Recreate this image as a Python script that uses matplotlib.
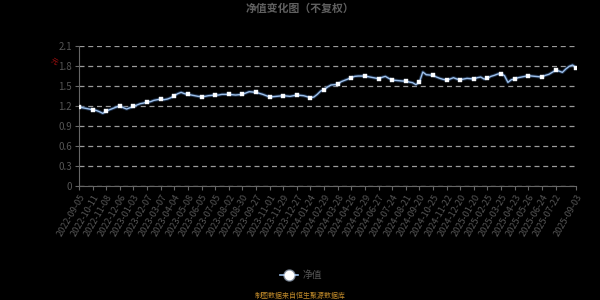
import matplotlib
matplotlib.use("Agg")
import matplotlib.pyplot as plt
import matplotlib.patheffects as pe

plt.rcParams['font.family'] = ['Noto Sans CJK SC', 'DejaVu Sans']

title = "净值变化图（不复权）"
series_name = "净值"
source_note = "制图数据来自恒生聚源数据库"
y_unit = "元"

tick_labels = [
    "2022-09-05", "2022-10-11", "2022-11-08", "2022-12-06", "2023-01-03",
    "2023-02-07", "2023-03-07", "2023-04-04", "2023-05-08", "2023-06-05",
    "2023-07-05", "2023-08-02", "2023-08-30", "2023-09-27", "2023-11-01",
    "2023-11-29", "2023-12-27", "2024-01-24", "2024-02-29", "2024-03-28",
    "2024-04-26", "2024-05-29", "2024-06-27", "2024-07-24", "2024-08-21",
    "2024-09-20", "2024-10-25", "2024-11-22", "2024-12-20", "2025-01-20",
    "2025-02-25", "2025-03-25", "2025-04-23", "2025-05-26", "2025-06-24",
    "2025-07-22", "2025-09-03",
]
tick_index = [0, 4, 8, 12, 16, 20, 24, 28, 32, 36, 40, 44, 48, 52, 56, 60,
              64, 68, 72, 76, 80, 84, 88, 92, 96, 100, 104, 108, 112, 116,
              120, 124, 128, 132, 136, 140, 146]

nav = [
    1.185, 1.17, 1.16, 1.15, 1.14, 1.13, 1.11, 1.085, 1.12, 1.14,
    1.16, 1.18, 1.20, 1.17, 1.15, 1.17, 1.19, 1.21, 1.23, 1.24,
    1.255, 1.26, 1.28, 1.29, 1.30, 1.29, 1.30, 1.32, 1.35, 1.38,
    1.40, 1.38, 1.37, 1.36, 1.35, 1.34, 1.335, 1.34, 1.35, 1.355,
    1.36, 1.36, 1.37, 1.37, 1.37, 1.365, 1.36, 1.365, 1.37, 1.39,
    1.41, 1.405, 1.40, 1.385, 1.37, 1.35, 1.33, 1.335, 1.34, 1.345,
    1.35, 1.345, 1.34, 1.35, 1.36, 1.355, 1.35, 1.335, 1.32, 1.33,
    1.37, 1.42, 1.44, 1.48, 1.51, 1.515, 1.52, 1.56, 1.58, 1.60,
    1.62, 1.64, 1.645, 1.645, 1.645, 1.635, 1.625, 1.615, 1.605, 1.625,
    1.64, 1.61, 1.585, 1.58, 1.575, 1.57, 1.57, 1.555, 1.545, 1.515,
    1.555, 1.705, 1.665, 1.66, 1.655, 1.63, 1.61, 1.595, 1.585, 1.60,
    1.62, 1.60, 1.59, 1.60, 1.61, 1.605, 1.60, 1.62, 1.63, 1.60,
    1.61, 1.64, 1.655, 1.675, 1.68, 1.65, 1.55, 1.59, 1.60, 1.62,
    1.63, 1.64, 1.65, 1.645, 1.64, 1.635, 1.63, 1.655, 1.67, 1.70,
    1.73, 1.72, 1.70, 1.75, 1.79, 1.81, 1.77,
]
y_ticks = [0, 0.3, 0.6, 0.9, 1.2, 1.5, 1.8, 2.1]
y_tick_labels = ["0", "0.3", "0.6", "0.9", "1.2", "1.5", "1.8", "2.1"]

fig = plt.figure(figsize=(6, 3), dpi=100, facecolor="black")
ax = fig.add_axes([79/600, 1-185.7/300, (576-79)/600, (185.7-45.7)/300])
ax.set_facecolor("black")

x = list(range(len(nav)))
line_color = "#9cbfea"
ax.plot(x, nav, color=line_color, lw=1.0, zorder=3,
        path_effects=[pe.Stroke(linewidth=2.4, foreground="#34537d", alpha=0.55), pe.Normal()])
marks = tick_index
ax.plot([x[i] for i in marks], [nav[i] for i in marks], ls="none", marker="s",
        ms=2.2, mfc="white", mec="#e6eef9", mew=0.3, zorder=4)

ax.set_xlim(0, len(nav) - 1)
ax.set_ylim(0, 2.1)
ax.set_yticks(y_ticks)
ax.set_yticklabels(y_tick_labels)
ax.set_xticks(tick_index)
ax.set_xticklabels(tick_labels, rotation=60, ha="right", rotation_mode="anchor")

txt_color = "#555555"
ax.tick_params(axis="x", colors="#666666", labelcolor=txt_color, labelsize=6.6,
               length=3, width=0.8, pad=2)
ax.tick_params(axis="y", colors="#666666", labelcolor=txt_color, labelsize=7,
               length=3, width=0.8, pad=2)
ax.grid(axis="y", color="#9a9a9a", ls=(0, (4, 3)), lw=0.9)
ax.set_axisbelow(True)
for s in ["top", "right"]:
    ax.spines[s].set_visible(False)
ax.spines["left"].set_color("#666666")
ax.spines["bottom"].set_color("#666666")
ax.spines["left"].set_linewidth(0.8)
ax.spines["bottom"].set_linewidth(0.8)

fig.text(0.5, 1 - 9/300, title, ha="center", va="center", color="#606060",
         fontsize=7.8, fontweight="bold")
fig.text(54/600, 1 - 62/300, y_unit, ha="center", va="center", color="#a01010",
         fontsize=5, rotation=-30)

# legend
ly = 1 - 275/300
fig.add_artist(plt.Line2D([280/600, 298/600], [ly, ly], color=line_color, lw=1.2,
                          transform=fig.transFigure))
fig.add_artist(plt.Line2D([289/600], [ly], marker="o", ms=8, mfc="#c6d8f0", mec="#c6d8f0",
                          alpha=0.5, transform=fig.transFigure))
fig.add_artist(plt.Line2D([289/600], [ly], marker="o", ms=6, mfc="white", mec="white",
                          transform=fig.transFigure))
fig.text(303/600, ly, series_name, ha="left", va="center", color=txt_color, fontsize=7)

fig.text(0.5, 1 - 296/300, source_note, ha="center", va="center", color="#c08a2a",
         fontsize=5)

fig.savefig("out.png", dpi=100, facecolor="black")
